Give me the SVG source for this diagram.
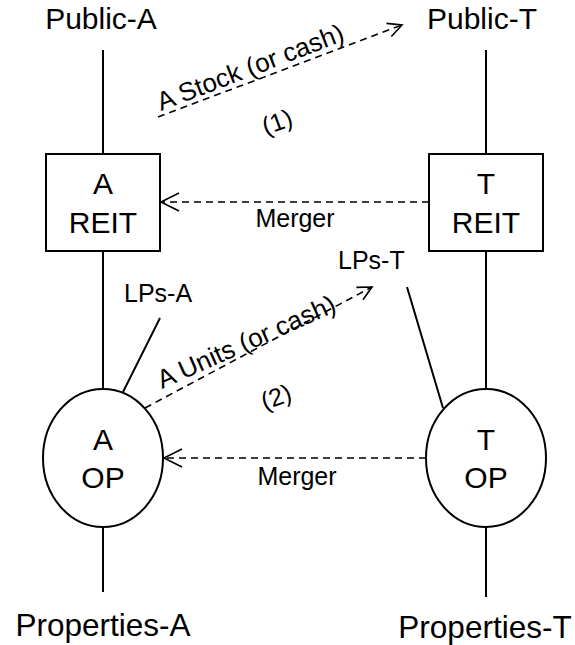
<svg xmlns="http://www.w3.org/2000/svg" width="575" height="645" viewBox="0 0 575 645">
<style>
text{font-family:"Liberation Sans",Arial,sans-serif;fill:#000}
.big{font-size:30px;text-anchor:middle}
.prop{font-size:31.5px;text-anchor:middle}
.sm{font-size:25px}
.lab{font-size:26px}
.mid{text-anchor:middle}
.solid{stroke:#000;stroke-width:2;fill:none}
.dash{stroke:#000;stroke-width:1.6;fill:none;stroke-dasharray:7 5}
.shape{fill:#fff;stroke:#000;stroke-width:2}
</style>
<defs>
<marker id="arr" viewBox="-20 -11 22 22" refX="0" refY="0" markerWidth="22" markerHeight="22" orient="auto" markerUnits="userSpaceOnUse">
<path d="M-18,-9 L0,0 L-18,9" fill="none" stroke="#000" stroke-width="1.6"/>
</marker>
<marker id="arrs" viewBox="-20 -11 22 22" refX="0" refY="0" markerWidth="22" markerHeight="22" orient="auto" markerUnits="userSpaceOnUse">
<path d="M-14,-7 L0,0 L-14,7" fill="none" stroke="#000" stroke-width="1.6"/>
</marker>
</defs>
<g id="connectors">
<line class="solid" x1="103" y1="50" x2="103" y2="154"/>
<line class="solid" x1="486" y1="50" x2="486" y2="154"/>
<line class="solid" x1="103" y1="251" x2="103" y2="389"/>
<line class="solid" x1="486" y1="251" x2="486" y2="389"/>
<line class="solid" x1="103" y1="527" x2="103" y2="592"/>
<line class="solid" x1="486" y1="527" x2="486" y2="597"/>
<line class="solid" x1="160" y1="318" x2="123" y2="392"/>
<line class="solid" x1="407" y1="287" x2="443" y2="408"/>
<line class="dash" x1="429" y1="202" x2="161" y2="202" marker-end="url(#arr)"/>
<line class="dash" x1="426" y1="458" x2="164" y2="458" marker-end="url(#arr)"/>
<line class="dash" x1="158" y1="117" x2="402" y2="25" marker-end="url(#arrs)"/>
<line class="dash" x1="145" y1="408" x2="372" y2="287" marker-end="url(#arrs)"/>
<text class="sm mid" x="295" y="227">Merger</text>
<text class="sm mid" x="297" y="485">Merger</text>
<text class="lab" transform="translate(161,111) rotate(-21)">A Stock (or cash)</text>
<text class="lab" transform="translate(162,389) rotate(-24)">A Units (or cash)</text>
<text class="sm mid" transform="translate(280,130) rotate(-20)">(1)</text>
<text class="sm mid" transform="translate(279,405) rotate(-20)">(2)</text>
</g>
<g id="public-a"><text class="big" x="101" y="29">Public-A</text></g>
<g id="public-t"><text class="big" x="482" y="29">Public-T</text></g>
<g id="reit-a">
<rect class="shape" x="46" y="154" width="114" height="97"/>
<text class="big" x="103" y="194">A</text>
<text class="big" x="103" y="233">REIT</text>
</g>
<g id="reit-t">
<rect class="shape" x="429" y="154" width="114" height="97"/>
<text class="big" x="486" y="194">T</text>
<text class="big" x="486" y="233">REIT</text>
</g>
<g id="lps-a"><text class="sm" x="124" y="302">LPs-A</text></g>
<g id="lps-t"><text class="sm" x="338" y="269">LPs-T</text></g>
<g id="op-a">
<ellipse class="shape" cx="103" cy="458" rx="60" ry="69"/>
<text class="big" x="103" y="450">A</text>
<text class="big" x="103" y="488">OP</text>
</g>
<g id="op-t">
<ellipse class="shape" cx="486" cy="458" rx="60" ry="69"/>
<text class="big" x="486" y="450">T</text>
<text class="big" x="486" y="488">OP</text>
</g>
<g id="properties-a"><text class="prop" x="103" y="636">Properties-A</text></g>
<g id="properties-t"><text class="prop" x="485" y="638">Properties-T</text></g>
</svg>
